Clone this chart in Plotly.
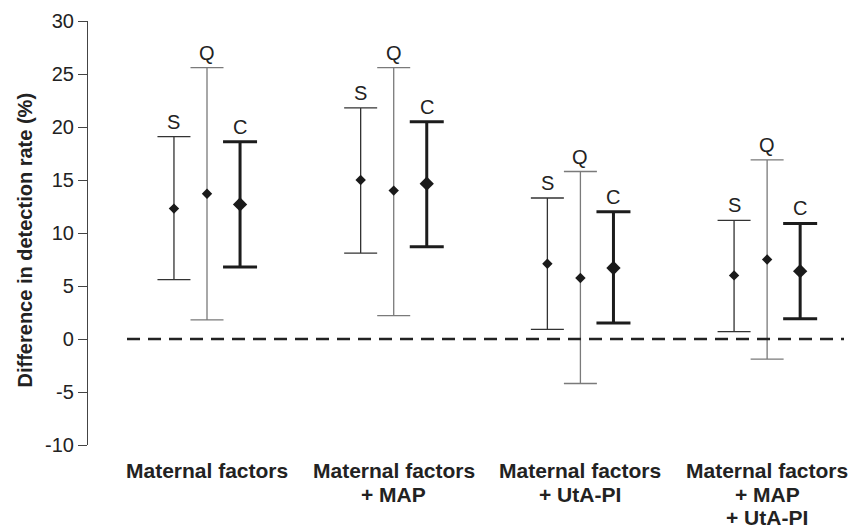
import plotly.graph_objects as go

# ---- data ----
group_lines = [
    ["Maternal factors"],
    ["Maternal factors", "+ MAP"],
    ["Maternal factors", "+ UtA-PI"],
    ["Maternal factors", "+ MAP", "+ UtA-PI"],
]
series_names = ["S", "Q", "C"]
S_mid = [12.3, 15.0, 7.1, 6.0]
S_lo = [5.6, 8.1, 0.9, 0.7]
S_hi = [19.1, 21.8, 13.3, 11.2]
Q_mid = [13.7, 14.0, 5.75, 7.5]
Q_lo = [1.8, 2.2, -4.2, -1.9]
Q_hi = [25.6, 25.6, 15.8, 16.9]
C_mid = [12.7, 14.65, 6.7, 6.4]
C_lo = [6.8, 8.7, 1.5, 1.9]
C_hi = [18.6, 20.5, 12.0, 10.9]
y_ticks = [-10, -5, 0, 5, 10, 15, 20, 25, 30]
y_tick_labels = ["-10", "-5", "0", "5", "10", "15", "20", "25", "30"]

# ---- styles ----
FONT = "Liberation Sans, Arial, sans-serif"
styles = {
    "S": dict(offset=-0.177, color="#333333", thick=1.3, msize=8, cap=16.5),
    "Q": dict(offset=0.0, color="#7a7a7a", thick=1.3, msize=8, cap=16.5),
    "C": dict(offset=0.177, color="#1c1c1c", thick=3.0, msize=11, cap=17),
}
data = {"S": (S_mid, S_lo, S_hi), "Q": (Q_mid, Q_lo, Q_hi), "C": (C_mid, C_lo, C_hi)}

fig = go.Figure()
annotations = []
for name in series_names:
    mid, lo, hi = data[name]
    st = styles[name]
    xs = [i + 1 + st["offset"] for i in range(len(mid))]
    fig.add_trace(go.Scatter(
        x=xs, y=mid, mode="markers", name=name, showlegend=False,
        marker=dict(symbol="diamond", size=st["msize"], color="#1a1a1a"),
        error_y=dict(type="data", symmetric=False,
                     array=[h - m for h, m in zip(hi, mid)],
                     arrayminus=[m - l for m, l in zip(mid, lo)],
                     color=st["color"], thickness=st["thick"], width=st["cap"]),
    ))
    for x, h in zip(xs, hi):
        annotations.append(dict(x=x, y=h, xref="x", yref="y", text=name,
                                showarrow=False, yanchor="bottom", yshift=2,
                                font=dict(family=FONT, size=20, color="#222222")))

for i, lines in enumerate(group_lines):
    for j, line in enumerate(lines):
        annotations.append(dict(x=i + 1, y=0, xref="x", yref="paper", text="<b>%s</b>" % line,
                                showarrow=False, yanchor="top", yshift=-12 - 23.5 * j,
                                font=dict(family=FONT, size=21, color="#222222")))

annotations.append(dict(x=-0.083, y=0.483, xref="paper", yref="paper",
                        text="<b>Difference in detection rate (%)</b>", textangle=-90,
                        showarrow=False, xanchor="center", yanchor="middle",
                        font=dict(family=FONT, size=20, color="#222222")))

fig.add_shape(type="line", xref="paper", yref="y", x0=0.0516, x1=1.0, y0=0, y1=0,
              line=dict(color="#222222", width=2.5, dash="13px,8px"))

fig.update_layout(
    width=854, height=530,
    margin=dict(l=88, r=10, t=15, b=85),
    paper_bgcolor="white", plot_bgcolor="white",
    xaxis=dict(range=[0.3626, 4.4118], showline=False, showgrid=False, zeroline=False,
               showticklabels=False, ticks=""),
    yaxis=dict(range=[-10, 30], tickvals=y_ticks, ticktext=y_tick_labels,
               showgrid=False, zeroline=False,
               showline=True, linecolor="#444444", linewidth=1.2,
               ticks="outside", ticklen=9, tickcolor="#444444", tickwidth=1.2,
               tickfont=dict(family=FONT, size=20, color="#222222")),
    annotations=annotations,
)

fig.write_html("out.html", config={"displayModeBar": False},
               post_script="document.body.style.margin='0';document.body.style.overflow='hidden';")
